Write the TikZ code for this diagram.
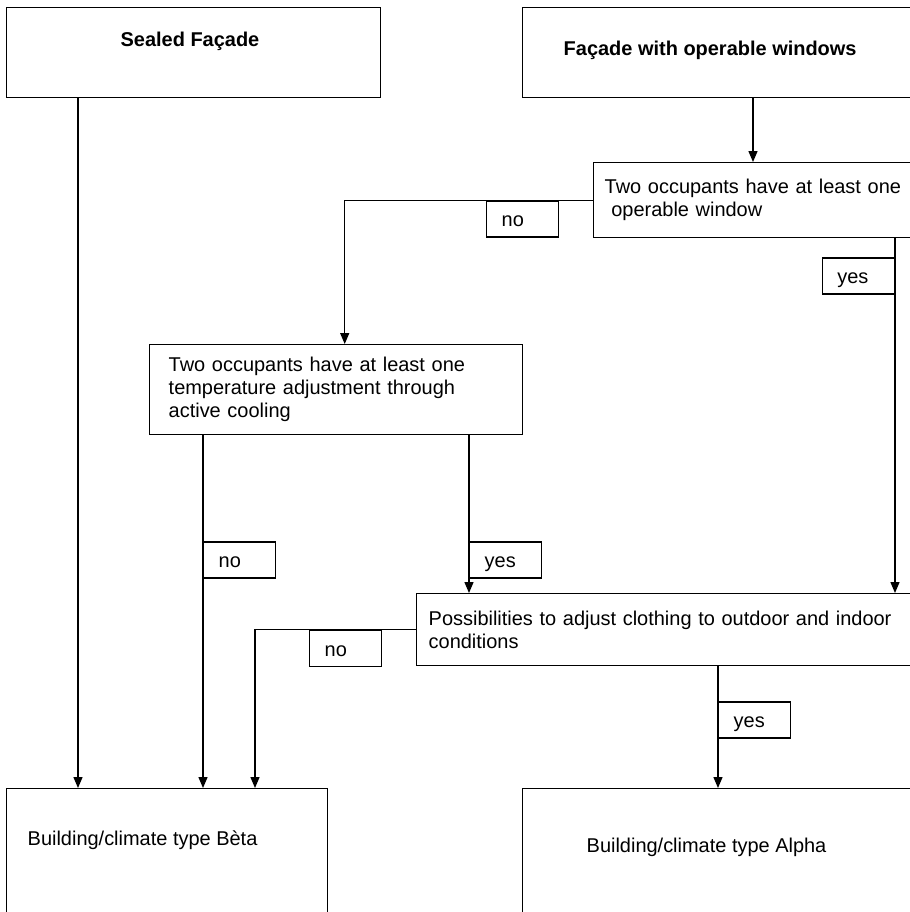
\documentclass[tikz,border=0pt]{standalone}
\usepackage{fontspec}
\setmainfont{Liberation Sans}
\usetikzlibrary{arrows.meta}
\newcommand{\flowfont}{\fontsize{14.2}{16.4}\selectfont}

\begin{document}
\begin{tikzpicture}[x=0.25mm, y=-0.25mm, line width=1pt,
		bigbox/.style={draw, anchor=north west, inner sep=0pt},
		stepbox/.style={draw, anchor=north west, align=left, inner ysep=0pt, font=\flowfont},
		lbl/.style={draw, fill=white, anchor=north west, minimum height=0.9cm, text width=1.05cm,
			text height=11pt, text depth=0pt, inner xsep=0.375cm, inner ysep=0pt, align=left, font=\flowfont},
		txt/.style={inner sep=0pt, font=\flowfont},
		head/.style={inner sep=0pt, font=\flowfont\bfseries},
		arr/.style={-{Triangle[length=0.275cm,width=0.225cm]}}]
		%%%%% FRAME %%%%%
		\useasboundingbox (0,0) rectangle (910,912);
		\fill[white] (0,0) rectangle (910,912);
		\clip (0,0) rectangle (910,912);
		
		%%%%% BOXES %%%%%
		\node[bigbox, minimum width=9.35cm, minimum height=2.25cm] (sealed) at (6,7) {};
		\node[head] (sealedhead) at ([shift={(184,34)}]sealed.north west) {Sealed Façade};
		
		\node[bigbox, minimum width=10cm, minimum height=2.25cm] (opwin) at (522,7) {};
		\node[head, anchor=west] (opwinhead) at ([shift={(41,43)}]opwin.north west) {Façade with operable windows};
		
		\node[stepbox, text width=8.125cm, inner xsep=0.275cm, minimum height=1.875cm] (window) at (593,162)
			{Two occupants have at least one\\\ operable window};
		
		\node[stepbox, text width=8.375cm, inner xsep=0.475cm, minimum height=2.25cm] (cooling) at (149,344)
			{Two occupants have at least one\\temperature adjustment through\\active cooling};
		
		\node[stepbox, text width=13cm, inner xsep=0.3cm, minimum height=1.8cm] (clothing) at (416,593)
			{Possibilities to adjust clothing to outdoor and indoor\\conditions};
		
		\node[bigbox, minimum width=8.025cm, minimum height=5cm] (beta) at (6,788) {};
		\node[txt, anchor=west] (betatxt) at ([shift={(21,52)}]beta.north west) {Building/climate type Bèta};
		
		\node[bigbox, minimum width=10cm, minimum height=5cm] (alpha) at (522,788) {};
		\node[txt, anchor=west] (alphatxt) at ([shift={(64,59)}]alpha.north west) {Building/climate type Alpha};
		
		%%%%% CONNECTORS %%%%%
		\draw[arr] ([shift={(72,0)}]sealed.south west) -- ([shift={(72,0)}]beta.north west);
		\draw[arr] ([shift={(231,0)}]opwin.south west) -- ([shift={(160,0)}]window.north west);
		\draw[arr] (window.west) -| ([shift={(8.5,0)}]cooling.north);
		\draw[arr] ([shift={(302,0)}]window.south west) -- ([shift={(479,0)}]clothing.north west);
		\draw[arr] ([shift={(54,0)}]cooling.south west) -- ([shift={(197,0)}]beta.north west);
		\draw[arr] ([shift={(320,0)}]cooling.south west) -- ([shift={(53,0)}]clothing.north west);
		\draw[arr] (clothing.west) -| ([shift={(249,0)}]beta.north west);
		\draw[arr] ([shift={(302,0)}]clothing.south west) -- ([shift={(196,0)}]alpha.north west);
		
		%%%%% LABELS %%%%%
		\node[lbl] (no1) at ([shift={(-107,0)}]window.west) {no};
		\node[lbl, anchor=north east] (yes1) at ([shift={(302,19)}]window.south west) {yes};
		\node[lbl] (no2) at ([shift={(54,106)}]cooling.south west) {no};
		\node[lbl] (yes2) at ([shift={(320,106)}]cooling.south west) {yes};
		\node[lbl] (no3) at ([shift={(-107,0)}]clothing.west) {no};
		\node[lbl] (yes3) at ([shift={(302,35)}]clothing.south west) {yes};
		
	\end{tikzpicture}
\end{document}
